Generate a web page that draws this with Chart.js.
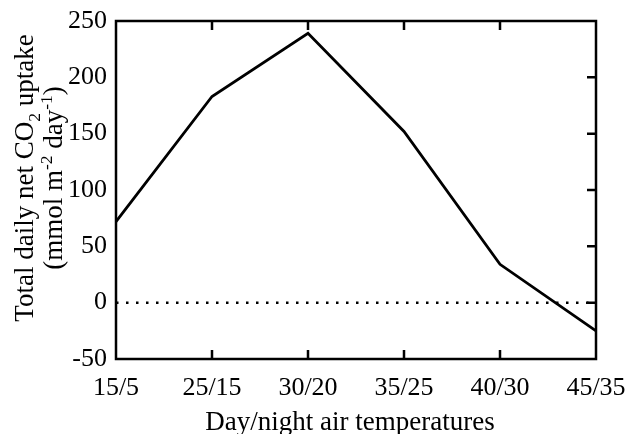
<!DOCTYPE html>
<html>
<head>
<meta charset="utf-8">
<script src="https://cdn.jsdelivr.net/npm/chart.js@4.4.0/dist/chart.umd.min.js"></script>
<style>
  body { margin: 0; background: #fff; }
  canvas { display: block; }
</style>
</head>
<body>
<canvas id="co2Chart" width="628" height="434"></canvas>
<script>
// data
const temperatures = ["15/5", "25/15", "30/20", "35/25", "40/30", "45/35"];
const co2Uptake = [72, 183, 239, 152, 34, -25];
const yMin = -50;
const yMax = 250;
const yStep = 50;

const serif = "'Liberation Serif', 'Times New Roman', serif";

// draws text made of pieces, some raised (sup) or lowered (sub)
function drawRichText(ctx, parts, size) {
  let total = 0;
  parts.forEach(p => {
    ctx.font = (p.pos ? size * 0.65 : size) + "px " + serif;
    p.w = ctx.measureText(p.t).width;
    total += p.w;
  });
  let x = -total / 2;
  parts.forEach(p => {
    ctx.font = (p.pos ? size * 0.65 : size) + "px " + serif;
    let dy = 0;
    if (p.pos === "sub") dy = size * 0.25;
    if (p.pos === "sup") dy = -size * 0.38;
    ctx.fillText(p.t, x, dy);
    x += p.w;
  });
}

const framePlugin = {
  id: "frame",
  beforeDatasetsDraw(chart) {
    const ctx = chart.ctx;
    const area = chart.chartArea;
    const y0 = chart.scales.y.getPixelForValue(0);
    ctx.save();
    ctx.strokeStyle = "#000";
    ctx.lineWidth = 2.5;
    ctx.setLineDash([2.5, 7.5]);
    ctx.beginPath();
    ctx.moveTo(area.left, y0);
    ctx.lineTo(area.right, y0);
    ctx.stroke();
    ctx.restore();
  },
  afterDraw(chart) {
    const ctx = chart.ctx;
    const area = chart.chartArea;
    const xs = chart.scales.x;
    const ys = chart.scales.y;
    const tick = 9;
    ctx.save();
    ctx.strokeStyle = "#000";
    ctx.lineWidth = 2.5;
    ctx.strokeRect(area.left, area.top, area.right - area.left, area.bottom - area.top);

    ctx.beginPath();
    for (let i = 1; i < temperatures.length - 1; i++) {
      const px = xs.getPixelForValue(i);
      ctx.moveTo(px, area.bottom);
      ctx.lineTo(px, area.bottom - tick);
      ctx.moveTo(px, area.top);
      ctx.lineTo(px, area.top + tick);
    }
    for (let v = yMin + yStep; v < yMax; v += yStep) {
      const py = ys.getPixelForValue(v);
      ctx.moveTo(area.right, py);
      ctx.lineTo(area.right - tick, py);
    }
    ctx.stroke();

    // axis titles
    ctx.fillStyle = "#000";
    ctx.textBaseline = "alphabetic";
    ctx.textAlign = "left";

    ctx.save();
    ctx.translate(350, 430);
    drawRichText(ctx, [{ t: "Day/night air temperatures" }], 27);
    ctx.restore();

    const cy = 178;
    ctx.save();
    ctx.translate(33, cy);
    ctx.rotate(-Math.PI / 2);
    drawRichText(ctx, [
      { t: "Total daily net CO" },
      { t: "2", pos: "sub" },
      { t: " uptake" }
    ], 27);
    ctx.restore();

    ctx.save();
    ctx.translate(62, cy);
    ctx.rotate(-Math.PI / 2);
    drawRichText(ctx, [
      { t: "(mmol m" },
      { t: "-2", pos: "sup" },
      { t: " day" },
      { t: "-1", pos: "sup" },
      { t: ")" }
    ], 27);
    ctx.restore();

    ctx.restore();
  }
};

Chart.defaults.color = "#000";
Chart.defaults.font.family = serif;

new Chart(document.getElementById("co2Chart"), {
  type: "line",
  data: {
    labels: temperatures,
    datasets: [{
      data: co2Uptake,
      borderColor: "#000",
      borderWidth: 2.8,
      pointRadius: 0,
      tension: 0,
      fill: false
    }]
  },
  options: {
    responsive: false,
    animation: false,
    layout: { padding: { top: 21, right: 32, left: 0, bottom: 0 } },
    plugins: {
      legend: { display: false },
      tooltip: { enabled: false }
    },
    scales: {
      x: {
        offset: false,
        grid: { display: false },
        border: { display: false },
        ticks: { font: { size: 26 }, padding: 6, autoSkip: false, maxRotation: 0 },
        afterFit: s => { s.height = 75; s.paddingLeft = 0; s.paddingRight = 0; }
      },
      y: {
        min: yMin,
        max: yMax,
        grid: { display: false },
        border: { display: false },
        ticks: { stepSize: yStep, font: { size: 26 }, padding: 1 },
        afterFit: s => { s.width = 116; s.paddingTop = 0; s.paddingBottom = 0; }
      }
    }
  },
  plugins: [framePlugin]
});
</script>
</body>
</html>
